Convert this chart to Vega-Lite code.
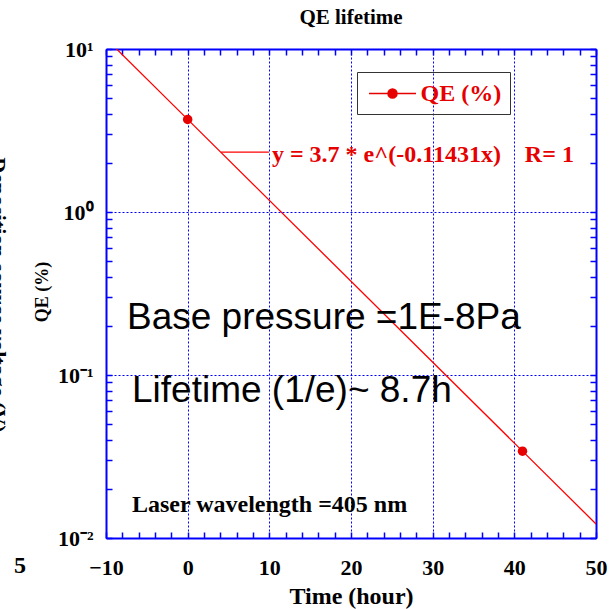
{
  "$schema": "https://vega.github.io/schema/vega-lite/v6.json",
  "width": 490,
  "height": 489,
  "autosize": {"type": "none"},
  "padding": {"left": 106, "top": 49, "right": 19, "bottom": 71},
  "background": "white",
  "title": {"text": "QE lifetime", "font": "Liberation Serif", "fontSize": 21, "fontWeight": "bold", "color": "black", "anchor": "middle", "offset": -7, "baseline": "alphabetic"},
  "config": {
    "view": {"stroke": null},
    "axis": {
      "domainColor": "#0000ff", "domainWidth": 2,
      "tickColor": "#0000ff", "tickWidth": 1.5, "tickSize": -6,
      "gridColor": "#0000ff", "gridDash": [2, 2], "gridWidth": 1,
      "labelFont": "Liberation Serif", "labelFontWeight": "bold", "labelColor": "black",
      "titleFont": "Liberation Serif", "titleFontWeight": "bold", "titleColor": "black",
      "labelFlush": false, "labelOverlap": false, "labelBound": false
    },
    "axisLeft": {"labelFontSize": 22},
    "axisBottom": {"labelFontSize": 22, "titleFontSize": 24}
  },
  "datasets": {
    "fit": [
      {"time": -10, "qe": 11.6},
      {"time": 0, "qe": 3.7},
      {"time": 41, "qe": 0.0341},
      {"time": 50, "qe": 0.0122}
    ],
    "measured": [
      {"time": 0, "qe": 3.7, "series": "QE (%)"},
      {"time": 41, "qe": 0.0341, "series": "QE (%)"}
    ]
  },
  "layer": [
    {
      "data": {"name": "fit"},
      "mark": {"type": "line", "color": "#ff0000", "strokeWidth": 1.3, "clip": true},
      "encoding": {
        "x": {"field": "time", "type": "quantitative",
          "scale": {"domain": [-10, 50], "nice": false, "zero": false},
          "axis": {"orient": "bottom",
            "values": [-10,-8,-6,-4,-2,0,2,4,6,8,10,12,14,16,18,20,22,24,26,28,30,32,34,36,38,40,42,44,46,48,50],
            "labelExpr": "datum.value % 10 == 0 ? datum.label : ''",
            "labelFontSize": 22, "labelPadding": 25,
            "grid": true,
            "gridOpacity": {"condition": {"test": "datum.value % 10 == 0", "value": 1}, "value": 0},
            "title": "Time (hour)", "titleFontSize": 24,
            "titleX": 245, "titleY": 65, "titleBaseline": "alphabetic", "titleAlign": "center", "titleAnchor": null}},
        "y": {"field": "qe", "type": "quantitative",
          "scale": {"type": "log", "domain": [0.01, 10], "nice": false},
          "axis": {"orient": "left",
            "values": [0.01,0.02,0.03,0.04,0.05,0.06,0.07,0.08,0.09,0.1,0.2,0.3,0.4,0.5,0.6,0.7,0.8,0.9,1,2,3,4,5,6,7,8,9,10],
            "labelExpr": "datum.value == 10 ? '10¹' : datum.value == 1 ? '10⁰' : datum.value == 0.1 ? '10⁻¹' : datum.value == 0.01 ? '10⁻²' : ''",
            "labelFontSize": 22, "labelPadding": 19,
            "grid": true,
            "gridOpacity": {"condition": {"test": "datum.value == 10 || datum.value == 1 || datum.value == 0.1 || datum.value == 0.01", "value": 1}, "value": 0},
            "title": null}}
      }
    },
    {
      "data": {"name": "measured"},
      "mark": {"type": "point", "filled": true, "size": 90, "opacity": 1},
      "encoding": {
        "x": {"field": "time", "type": "quantitative",
          "axis": {"orient": "top",
            "values": [-10,-8,-6,-4,-2,0,2,4,6,8,10,12,14,16,18,20,22,24,26,28,30,32,34,36,38,40,42,44,46,48,50],
            "labels": false, "grid": false, "title": null}},
        "y": {"field": "qe", "type": "quantitative",
          "axis": {"orient": "right",
            "values": [0.01,0.02,0.03,0.04,0.05,0.06,0.07,0.08,0.09,0.1,0.2,0.3,0.4,0.5,0.6,0.7,0.8,0.9,1,2,3,4,5,6,7,8,9,10],
            "labels": false, "grid": false, "title": null}},
        "color": {"field": "series", "type": "nominal",
          "scale": {"range": ["#e60000"]},
          "legend": {
            "orient": "none", "legendX": 251, "legendY": 23, "title": null,
            "strokeColor": "#333333", "padding": 8.5,
            "symbolType": "M-0.79,0L3.125,0M1.542,0A0.375,0.375,0,1,1,0.792,0A0.375,0.375,0,1,1,1.542,0Z",
            "symbolSize": 576,
            "symbolStrokeColor": "#e60000", "symbolStrokeWidth": 1.5, "symbolFillColor": "#e60000",
            "labelFont": "Liberation Serif", "labelFontWeight": "bold", "labelFontSize": 24,
            "labelColor": "#e60000", "labelOffset": 29,
            "labelExpr": "datum.label + '\u00a0'",
            "encode": {
              "legend": {"update": {"strokeWidth": {"value": 2}}},
              "symbols": {"update": {"stroke": {"value": "#e60000"}, "strokeWidth": {"value": 1.5}, "fill": {"value": "#e60000"}, "opacity": {"value": 1}}}
            }
          }}
      }
    },
    {
      "data": {"values": [{"time": 4.1, "time_end": 9.95, "qe": 2.33}]},
      "mark": {"type": "rule", "color": "#ff0000", "strokeWidth": 1.3},
      "encoding": {
        "x": {"field": "time", "type": "quantitative", "axis": null},
        "x2": {"field": "time_end"},
        "y": {"field": "qe", "type": "quantitative", "axis": null}
      }
    },
    {
      "data": {"values": [{"label": "y = 3.7 * e^(-0.11431x)\u00a0\u00a0\u00a0 R= 1", "time": 10.32, "qe": 2.026}]},
      "mark": {"type": "text", "font": "Liberation Serif", "fontWeight": "bold", "fontSize": 24, "color": "#e60000", "align": "left", "baseline": "alphabetic"},
      "encoding": {
        "x": {"field": "time", "type": "quantitative", "axis": null},
        "y": {"field": "qe", "type": "quantitative", "axis": null},
        "text": {"field": "label"}
      }
    },
    {
      "data": {"values": [
        {"label": "Base pressure =1E-8Pa", "time": -7.43, "qe": 0.1914},
        {"label": "Lifetime (1/e)~ 8.7h", "time": -6.82, "qe": 0.0683}
      ]},
      "mark": {"type": "text", "font": "Liberation Sans", "fontSize": 37, "color": "black", "align": "left", "baseline": "alphabetic"},
      "encoding": {
        "x": {"field": "time", "type": "quantitative", "axis": null},
        "y": {"field": "qe", "type": "quantitative", "axis": null},
        "text": {"field": "label"}
      }
    },
    {
      "data": {"values": [
        {"label": "Laser wavelength =405 nm", "time": -6.82, "qe": 0.01445},
        {"label": "5", "time": -21.26, "qe": 0.0061}
      ]},
      "mark": {"type": "text", "font": "Liberation Serif", "fontWeight": "bold", "fontSize": 24, "color": "black", "align": "left", "baseline": "alphabetic", "clip": false},
      "encoding": {
        "x": {"field": "time", "type": "quantitative", "axis": null},
        "y": {"field": "qe", "type": "quantitative", "axis": null},
        "text": {"field": "label"}
      }
    },
    {
      "data": {"values": [{"label": "QE (%)", "time": -17.71, "qe": 0.323}]},
      "mark": {"type": "text", "font": "Liberation Serif", "fontWeight": "bold", "fontSize": 18, "color": "black", "align": "center", "baseline": "middle", "angle": -90, "clip": false},
      "encoding": {
        "x": {"field": "time", "type": "quantitative", "axis": null},
        "y": {"field": "qe", "type": "quantitative", "axis": null},
        "text": {"field": "label"}
      }
    },
    {
      "data": {"values": [{"label": "Deposition source voltage (V)", "time": -24.08, "qe": 0.31}]},
      "mark": {"type": "text", "font": "Liberation Serif", "fontWeight": "bold", "fontSize": 22, "color": "black", "align": "center", "baseline": "alphabetic", "angle": 90, "clip": false},
      "encoding": {
        "x": {"field": "time", "type": "quantitative", "axis": null},
        "y": {"field": "qe", "type": "quantitative", "axis": null},
        "text": {"field": "label"}
      }
    }
  ],
  "resolve": {"axis": {"x": "independent", "y": "independent"}}
}
